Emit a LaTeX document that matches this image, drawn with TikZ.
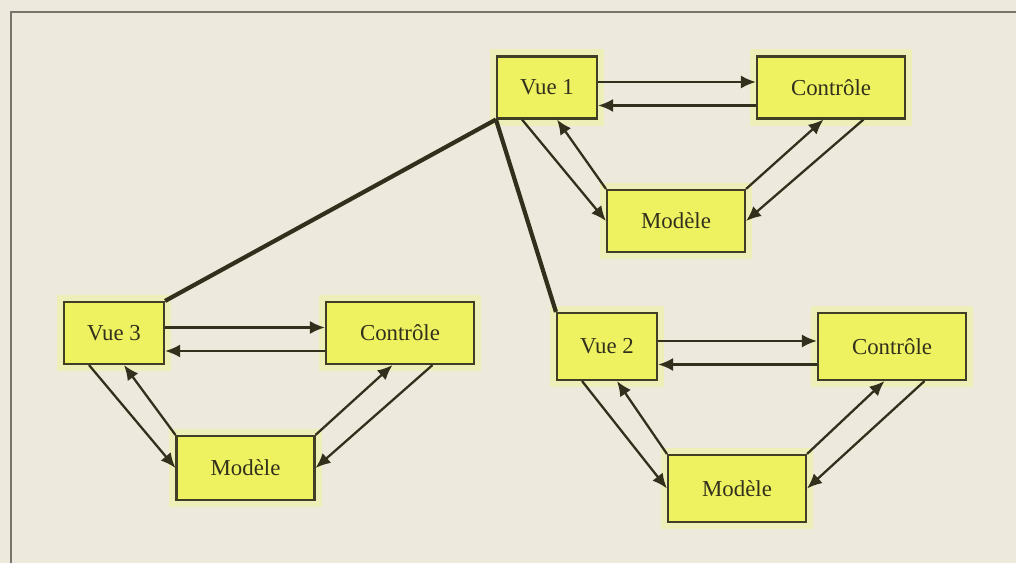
\documentclass[tikz,border=0pt]{standalone}
\usepackage{fontspec}
\setmainfont{Liberation Serif}
\usetikzlibrary{arrows.meta}

\definecolor{paper}{RGB}{237,234,221}
\definecolor{boxfill}{RGB}{238,242,96}
\definecolor{glow}{RGB}{240,244,130}
\definecolor{boxline}{RGB}{64,62,36}
\definecolor{ink}{RGB}{50,48,28}
\definecolor{frame}{RGB}{120,118,108}

\begin{document}
\begin{tikzpicture}[x=0.02cm, y=-0.02cm,
    box/.style={draw=boxline, fill=boxfill, rectangle, line width=1.2pt,
                minimum height=1.24cm, font=\fontsize{13}{15}\selectfont,
                text=ink, inner sep=2pt,
                preaction={draw=glow, line width=8pt, opacity=0.4}},
    vue/.style={box, minimum width=2cm},
    ctrl/.style={box, minimum width=2.96cm},
    mod/.style={box, minimum width=2.76cm},
    arrow/.style={-{Latex[length=3mm, width=2.6mm]}, line width=1.3pt, draw=ink},
    link/.style={line width=2.4pt, draw=ink}]
  \fill[paper] (0,0) rectangle (1016,563);
  \useasboundingbox (0,0) rectangle (1016,563);
  \draw[frame, line width=1.4pt] (11,563) -- (11,12) -- (1016,12);

  % groupe 1
  \node[vue] (v1) at (547,87.5) {Vue 1};
  \node[ctrl] (c1) at (831,87.5) {Contrôle};
  \node[mod] (m1) at (676,221) {Modèle};
  % groupe 3
  \node[vue] (v3) at (114,333) {Vue 3};
  \node[ctrl] (c3) at (400,333) {Contrôle};
  \node[mod, minimum height=1.28cm] (m3) at (245.5,468) {Modèle};
  % groupe 2
  \node[vue, minimum height=1.34cm] (v2) at (607,346.5) {Vue 2};
  \node[ctrl, minimum height=1.34cm] (c2) at (892,346.5) {Contrôle};
  \node[mod, minimum height=1.34cm] (m2) at (737,488.5) {Modèle};

  \draw[link] (v1.south west) -- (v3.north east);
  \draw[link] (v1.south west) -- (v2.north west);

  \foreach \v/\c/\m in {v1/c1/m1, v2/c2/m2, v3/c3/m3} {
    \draw[arrow] ([yshift=0.11cm]\v.east) -- ([yshift=0.11cm]\c.west);
    \draw[arrow] ([yshift=-0.36cm]\c.west) -- ([yshift=-0.36cm]\v.east);
    \draw[arrow] ([xshift=-0.5cm]\v.south) -- (\m.west);
    \draw[arrow] (\m.north west) -- ([xshift=0.2cm]\v.south);
    \draw[arrow] (\m.north east) -- ([xshift=-0.15cm]\c.south);
    \draw[arrow] ([xshift=0.65cm]\c.south) -- (\m.east);
  }
\end{tikzpicture}
\end{document}
